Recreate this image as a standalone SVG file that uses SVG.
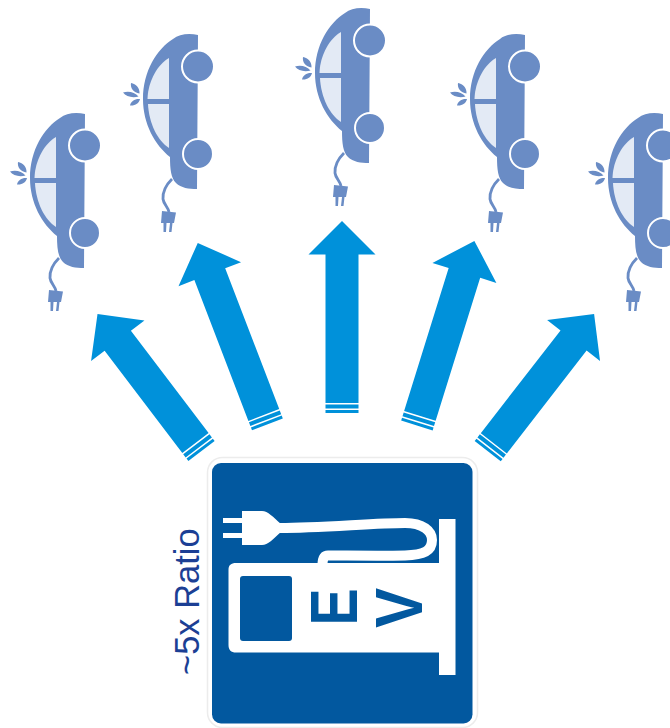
<svg xmlns="http://www.w3.org/2000/svg" width="670" height="728" viewBox="0 0 670 728">
<style>
.body{fill:#6a8cc5}.win{fill:#e3eaf5}.ring{fill:#6a8cc5;stroke:#fff;stroke-width:2}.cord{fill:none;stroke:#6a8cc5;stroke-width:2.800}
.arrow{fill:#0091da}.w{fill:#fff}.sign{fill:#02589f}
.lbl{font-family:"Liberation Sans",Arial,sans-serif}
</style>
<defs>
<g id="car">
<path class="body" d="M85 114C76 112 66 113 60 118C44 128 30 150 30 178C30 203 42 224 57 236C57 248 58 257 63 262C68 267 76 268 84 268Z"/>
<path class="win" d="M56 137C45 143 35 160 34.500 178H56Z"/>
<path class="win" d="M35 183H56V227C45 220 36 203 35 183Z"/>
<circle class="ring" cx="85" cy="145.500" r="16"/>
<circle class="ring" cx="85" cy="233" r="15"/>
<path class="body" d="M18 162C23 163 27 167 26.500 172.500C21 172 17 167 18 162ZM10 171.500C15 169.500 22 171 25.500 175.500C20 177 13 176 10 171.500ZM17 184.500C18 180 22 177.500 27 178C26 182.500 22 185 17 184.500Z"/>
<path class="cord" d="M59 258C53 264 49.500 271 50 278C50.500 283 55 286 56 291"/>
<path class="body" d="M49 290L63 291.500L61 302H59.500L58.500 311H56L57 302H53.500L53 311H50.500V302H48Z"/>
</g>
<path id="stripes" d="M-16.500 -8.500H16.500V-4.500H-16.500ZM-16.500 -3H16.500V0H-16.500Z"/>
</defs>
<g id="connectors" class="arrow">
<path id="arrow-1" transform="translate(201.500 451) rotate(-37.200)" d="M-16.500 -10V-138.500H-33.500L0 -172L33.500 -138.500H16.500V-10ZM-16.500 -8.500H16.500V-4.500H-16.500ZM-16.500 -3H16.500V0H-16.500Z"/>
<path id="arrow-2" transform="translate(267.400 424.300) rotate(-21)" d="M-16.500 -10V-160.800H-33.500L0 -194.300L33.500 -160.800H16.500V-10ZM-16.500 -8.500H16.500V-4.500H-16.500ZM-16.500 -3H16.500V0H-16.500Z"/>
<path id="arrow-3" transform="translate(342 413)" d="M-16.500 -10V-158.500H-33.500L0 -192L33.500 -158.500H16.500V-10ZM-16.500 -8.500H16.500V-4.500H-16.500ZM-16.500 -3H16.500V0H-16.500Z"/>
<path id="arrow-4" transform="translate(416.900 425.500) rotate(17.300)" d="M-16.500 -10V-159.800H-33.500L0 -193.300L33.500 -159.800H16.500V-10ZM-16.500 -8.500H16.500V-4.500H-16.500ZM-16.500 -3H16.500V0H-16.500Z"/>
<path id="arrow-5" transform="translate(487.700 451.200) rotate(37.800)" d="M-16.500 -10V-140.100H-33.500L0 -173.600L33.500 -140.100H16.500V-10ZM-16.500 -8.500H16.500V-4.500H-16.500ZM-16.500 -3H16.500V0H-16.500Z"/>
</g>
<use id="car-1" href="#car"/>
<use id="car-2" href="#car" transform="translate(113 -79)"/>
<use id="car-3" href="#car" transform="translate(285 -105)"/>
<use id="car-4" href="#car" transform="translate(440 -79)"/>
<use id="car-5" href="#car" transform="translate(578 0)"/>
<g id="ev-station">
<rect x="207.500" y="457.500" width="270" height="270" rx="15" fill="#fff" stroke="#ececec" stroke-width="1.500"/>
<rect class="sign" x="212" y="463" width="260.500" height="260.500" rx="9"/>
<path class="w" d="M439 519H455.500V675H439V652.500H236C231 652.500 228.500 650 228.500 645V570C228.500 565 231 563 236 563H439Z"/>
<rect class="sign" x="240" y="576" width="52" height="65" rx="3"/>
<path class="w" d="M223 518H242V511H262C268 511 273 517 281 524H285V532H281C273 539 268 545 262 545H242V538H223V533H242V523H223Z"/>
<path d="M280 528C320 528 375 523 405 523C423 523 432 531 432 540C432 551 424 555 405 555.500C380 556 345 555.500 328 555.500C324 555.500 322.500 558 322.500 565" fill="none" stroke="#fff" stroke-width="10"/>
<text class="lbl" transform="translate(356.500 625.500) scale(1 .83) rotate(-90)" font-size="67" font-weight="700" fill="#02589f">E</text>
<text class="lbl" transform="translate(421.500 628) rotate(-90) scale(.9 1)" font-size="67" font-weight="700" fill="#02589f">V</text>
</g>
<text id="ratio-label" class="lbl" transform="translate(199 675) rotate(-90)" font-size="34.500" fill="#1c3f94">~5x Ratio</text>
</svg>
